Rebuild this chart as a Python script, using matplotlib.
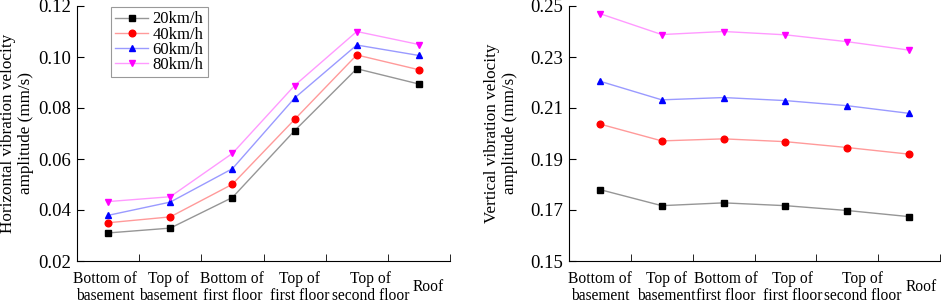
import numpy as np
import matplotlib
matplotlib.use("Agg")
import matplotlib.pyplot as plt
import matplotlib.transforms as mtransforms

plt.rcParams['font.family'] = ['Liberation Serif', 'DejaVu Serif']

# positions along the building
locations = ["Bottom of\nbasement", "Top of\nbasement", "Bottom of\nfirst floor",
             "Top of\nfirst floor", "Top of\nsecond floor", "Roof"]
speeds = ["20km/h", "40km/h", "60km/h", "80km/h"]

# horizontal vibration velocity amplitude (mm/s)
horiz_20 = [0.0310, 0.0329, 0.0449, 0.0711, 0.0954, 0.0894]
horiz_40 = [0.0350, 0.0373, 0.0501, 0.0755, 0.1008, 0.0950]
horiz_60 = [0.0379, 0.0431, 0.0562, 0.0839, 0.1047, 0.1006]
horiz_80 = [0.0433, 0.0452, 0.0622, 0.0888, 0.1100, 0.1049]

# vertical vibration velocity amplitude (mm/s)
vert_20 = [0.1780, 0.1717, 0.1728, 0.1717, 0.1698, 0.1674]
vert_40 = [0.2037, 0.1971, 0.1979, 0.1968, 0.1945, 0.1919]
vert_60 = [0.2205, 0.2132, 0.2141, 0.2129, 0.2109, 0.2079]
vert_80 = [0.2470, 0.2388, 0.2400, 0.2387, 0.2360, 0.2327]

marker_cols = ['black', 'red', 'blue', 'magenta']
line_cols = ['#969696', '#ff9a9a', '#9a9aff', '#ff9aff']
markers = ['s', 'o', '^', 'v']

fig = plt.figure(figsize=(9.41, 3.03), dpi=100)
ax1 = fig.add_axes([77/941, 1 - 261/303, 373/941, 255/303])
ax2 = fig.add_axes([569/941, 1 - 261/303, 371/941, 255/303])


def draw(ax, series, ylim, yticks, ylabel, shifts, ylabelpad, legend=False):
    x = np.arange(len(locations))
    for vals, mc, lc, mk, lab in zip(series, marker_cols, line_cols, markers, speeds):
        ax.plot(x, vals, color=lc, lw=1.0, marker=mk, ms=4.8,
                markerfacecolor=mc, markeredgecolor=mc, label=lab)
    ax.set_xlim(-0.5, len(locations) - 0.5)
    ax.set_ylim(*ylim)
    ax.set_yticks(yticks)
    ax.set_yticklabels([f"{t:.2f}" for t in yticks])
    ax.set_xticks(x)
    ax.set_xticklabels(locations, va='center', linespacing=1.06)
    ax.set_xticks(x + 0.5, minor=True)
    ax.tick_params(axis='x', which='major', length=0, pad=19.0, labelsize=11.2)
    ax.tick_params(axis='x', which='minor', direction='in', length=5)
    ax.tick_params(axis='y', direction='in', length=5, labelsize=13.5, pad=4)
    # labels in the original are nudged off their points a little
    for lbl, dx in zip(ax.get_xticklabels(), shifts):
        if dx:
            off = mtransforms.ScaledTranslation(dx / 100, 0, fig.dpi_scale_trans)
            lbl.set_transform(lbl.get_transform() + off)
    for s in ['top', 'right']:
        ax.spines[s].set_visible(False)
    ax.set_ylabel(ylabel, fontsize=12.3, linespacing=1.17, labelpad=ylabelpad)
    if legend:
        leg = ax.legend(loc='upper left', bbox_to_anchor=(0.091, 0.995), fontsize=12,
                        frameon=True, fancybox=False, edgecolor='#808080',
                        handlelength=2.0, handletextpad=0.25, borderpad=0.25,
                        labelspacing=-0.05, borderaxespad=0.0)
        leg.get_frame().set_linewidth(0.8)


draw(ax1, [horiz_20, horiz_40, horiz_60, horiz_80], (0.02, 0.12),
     [0.02, 0.04, 0.06, 0.08, 0.10, 0.12],
     "Horizontal vibration velocity\namplitude (mm/s)",
     [-3, -1.5, 0, 5, 14, 9.5], 3.0, legend=True)
draw(ax2, [vert_20, vert_40, vert_60, vert_80], (0.15, 0.25),
     [0.15, 0.17, 0.19, 0.21, 0.23, 0.25],
     "Vertical vibration velocity\namplitude (mm/s)",
     [0, 5, 2, 7, 15, 12], 9)

fig.savefig("out.png", dpi=100)
